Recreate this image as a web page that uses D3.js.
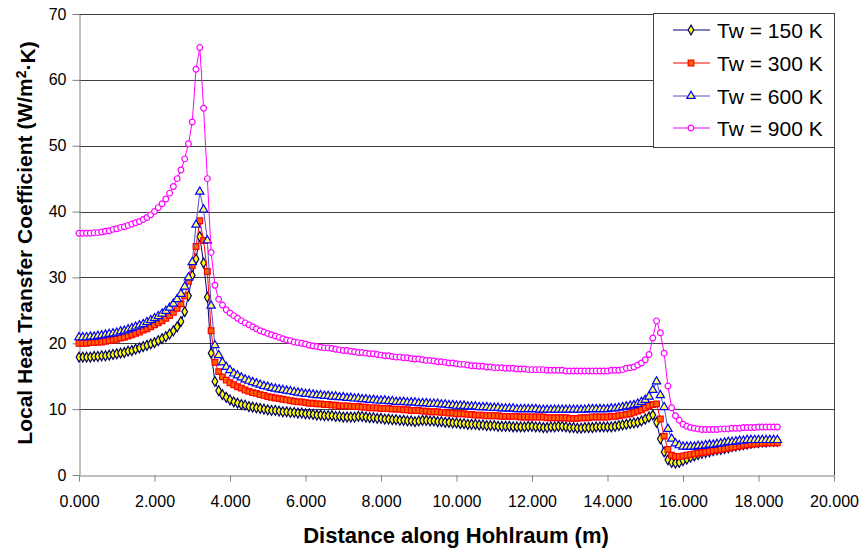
<!DOCTYPE html>
<html>
<head>
<meta charset="utf-8">
<script src="https://cdn.jsdelivr.net/npm/d3@7"></script>
<style>
  body { margin: 0; background: #fff; }
  svg { font-family: "Liberation Sans", Arial, sans-serif; }
  .axis path, .axis line { stroke: #808080; }
  .axis text { font-size: 16px; fill: #000; }
  .grid { stroke: #404040; stroke-width: 1; }
  .axis-label { font-weight: bold; fill: #000; }
</style>
</head>
<body>
<div id="chart"></div>
<script>
// distance along hohlraum (m)
var xs = [
  0.0, 0.1, 0.2, 0.3, 0.4, 0.5, 0.6, 0.7, 0.8, 0.9,
  1.0, 1.1, 1.2, 1.3, 1.4, 1.5, 1.6, 1.7, 1.8, 1.9,
  2.0, 2.1, 2.2, 2.3, 2.4, 2.5, 2.6, 2.7, 2.8, 2.9,
  3.0, 3.1, 3.2, 3.3, 3.4, 3.5, 3.6, 3.7, 3.8, 3.9,
  4.0, 4.1, 4.2, 4.3, 4.4, 4.5, 4.6, 4.7, 4.8, 4.9,
  5.0, 5.1, 5.2, 5.3, 5.4, 5.5, 5.6, 5.7, 5.8, 5.9,
  6.0, 6.1, 6.2, 6.3, 6.4, 6.5, 6.6, 6.7, 6.8, 6.9,
  7.0, 7.1, 7.2, 7.3, 7.4, 7.5, 7.6, 7.7, 7.8, 7.9,
  8.0, 8.1, 8.2, 8.3, 8.4, 8.5, 8.6, 8.7, 8.8, 8.9,
  9.0, 9.1, 9.2, 9.3, 9.4, 9.5, 9.6, 9.7, 9.8, 9.9,
  10.0, 10.1, 10.2, 10.3, 10.4, 10.5, 10.6, 10.7, 10.8, 10.9,
  11.0, 11.1, 11.2, 11.3, 11.4, 11.5, 11.6, 11.7, 11.8, 11.9,
  12.0, 12.1, 12.2, 12.3, 12.4, 12.5, 12.6, 12.7, 12.8, 12.9,
  13.0, 13.1, 13.2, 13.3, 13.4, 13.5, 13.6, 13.7, 13.8, 13.9,
  14.0, 14.1, 14.2, 14.3, 14.4, 14.5, 14.6, 14.7, 14.8, 14.9,
  15.0, 15.1, 15.2, 15.3, 15.4, 15.5, 15.6, 15.7, 15.8, 15.9,
  16.0, 16.1, 16.2, 16.3, 16.4, 16.5, 16.6, 16.7, 16.8, 16.9,
  17.0, 17.1, 17.2, 17.3, 17.4, 17.5, 17.6, 17.7, 17.8, 17.9,
  18.0, 18.1, 18.2, 18.3, 18.4, 18.5
];

var tw150 = [
  17.9, 17.9, 17.9, 17.9, 18.0, 18.0, 18.1, 18.1, 18.2, 18.3,
  18.4, 18.5, 18.6, 18.8, 18.9, 19.1, 19.3, 19.5, 19.7, 19.9,
  20.1, 20.4, 20.7, 21.0, 21.4, 21.9, 22.5, 23.3, 24.8, 27.2,
  30.3, 32.8, 36.2, 32.2, 27.0, 18.5, 14.2, 12.8, 12.2, 11.8,
  11.4, 11.1, 10.9, 10.7, 10.6, 10.4, 10.3, 10.2, 10.1, 10.0,
  9.9, 9.8, 9.8, 9.7, 9.6, 9.6, 9.5, 9.5, 9.4, 9.4,
  9.3, 9.3, 9.2, 9.1, 9.1, 9.0, 9.0, 9.0, 8.9, 8.9,
  8.8, 8.8, 8.8, 8.8, 8.9, 8.9, 8.8, 8.7, 8.7, 8.6,
  8.6, 8.5, 8.5, 8.4, 8.4, 8.3, 8.3, 8.2, 8.2, 8.1,
  8.2, 8.3, 8.3, 8.2, 8.2, 8.1, 8.1, 8.0, 8.0, 7.9,
  7.9, 7.8, 7.8, 7.7, 7.7, 7.7, 7.6, 7.6, 7.5, 7.5,
  7.5, 7.4, 7.4, 7.4, 7.4, 7.3, 7.3, 7.3, 7.3, 7.4,
  7.4, 7.3, 7.3, 7.2, 7.2, 7.3, 7.3, 7.4, 7.4, 7.3,
  7.2, 7.2, 7.1, 7.1, 7.2, 7.2, 7.2, 7.3, 7.3, 7.3,
  7.3, 7.3, 7.4, 7.5, 7.6, 7.7, 7.8, 7.9, 8.0, 8.2,
  8.5, 8.8, 9.1, 8.0, 5.5, 3.5, 2.3, 1.9, 1.8, 1.9,
  2.2, 2.4, 2.7, 2.9, 3.1, 3.3, 3.4, 3.5, 3.7, 3.8,
  3.9, 4.0, 4.1, 4.3, 4.4, 4.5, 4.6, 4.7, 4.8, 4.9,
  4.9, 5.0, 5.0, 5.1, 5.1, 5.1
];

var tw300 = [
  20.0, 20.0, 20.0, 20.1, 20.1, 20.2, 20.2, 20.3, 20.4, 20.5,
  20.6, 20.8, 20.9, 21.1, 21.3, 21.5, 21.7, 22.0, 22.2, 22.5,
  22.8, 23.1, 23.4, 23.8, 24.2, 24.7, 25.3, 26.0, 27.2, 29.4,
  31.8, 34.7, 38.6, 35.6, 30.9, 21.9, 17.1, 15.7, 14.9, 14.4,
  14.0, 13.7, 13.4, 13.2, 12.9, 12.7, 12.5, 12.4, 12.2, 12.1,
  11.9, 11.8, 11.7, 11.6, 11.5, 11.4, 11.3, 11.2, 11.1, 11.1,
  11.0, 10.9, 10.9, 10.8, 10.8, 10.7, 10.7, 10.6, 10.6, 10.5,
  10.5, 10.5, 10.4, 10.4, 10.4, 10.3, 10.3, 10.2, 10.2, 10.2,
  10.1, 10.1, 10.1, 10.0, 10.0, 10.0, 9.9, 9.9, 9.8, 9.8,
  9.8, 9.7, 9.7, 9.6, 9.6, 9.6, 9.5, 9.5, 9.4, 9.4,
  9.3, 9.3, 9.3, 9.2, 9.2, 9.1, 9.1, 9.1, 9.0, 9.0,
  9.0, 9.0, 8.9, 8.9, 8.9, 8.9, 8.9, 8.8, 8.8, 8.8,
  8.8, 8.8, 8.8, 8.8, 8.7, 8.7, 8.7, 8.7, 8.7, 8.7,
  8.6, 8.6, 8.6, 8.7, 8.7, 8.7, 8.8, 8.8, 8.8, 8.8,
  8.8, 8.9, 8.9, 9.0, 9.1, 9.2, 9.3, 9.5, 9.7, 9.9,
  10.2, 10.5, 10.7, 10.8, 8.5, 5.9, 3.9, 3.0, 2.8, 2.8,
  2.9, 3.0, 3.1, 3.2, 3.3, 3.4, 3.5, 3.6, 3.7, 3.8,
  3.9, 4.0, 4.1, 4.2, 4.3, 4.4, 4.5, 4.6, 4.7, 4.7,
  4.8, 4.8, 4.9, 4.9, 4.9, 4.9
];

var tw600 = [
  20.9, 20.9, 20.9, 21.0, 21.0, 21.1, 21.2, 21.3, 21.4, 21.5,
  21.6, 21.8, 21.9, 22.1, 22.3, 22.5, 22.7, 22.9, 23.2, 23.5,
  23.8, 24.1, 24.5, 24.9, 25.4, 26.0, 26.7, 27.5, 28.6, 30.0,
  32.3, 38.0, 43.0, 40.3, 35.6, 25.7, 19.7, 18.2, 17.1, 16.4,
  15.9, 15.4, 15.1, 14.8, 14.5, 14.3, 14.1, 13.9, 13.7, 13.5,
  13.4, 13.2, 13.1, 13.0, 12.9, 12.8, 12.7, 12.6, 12.5, 12.4,
  12.3, 12.3, 12.2, 12.1, 12.1, 12.0, 12.0, 11.9, 11.9, 11.8,
  11.8, 11.7, 11.7, 11.6, 11.6, 11.5, 11.5, 11.4, 11.4, 11.3,
  11.3, 11.3, 11.2, 11.2, 11.1, 11.1, 11.1, 11.0, 11.0, 11.0,
  10.9, 10.9, 10.9, 10.8, 10.8, 10.8, 10.7, 10.7, 10.6, 10.6,
  10.5, 10.5, 10.5, 10.4, 10.4, 10.4, 10.3, 10.3, 10.3, 10.2,
  10.2, 10.2, 10.1, 10.1, 10.1, 10.1, 10.0, 10.0, 10.0, 10.0,
  10.0, 10.0, 9.9, 9.9, 9.9, 9.9, 9.9, 9.9, 9.9, 9.9,
  9.9, 9.9, 9.9, 9.9, 9.9, 10.0, 10.0, 10.0, 10.0, 10.0,
  10.0, 10.1, 10.1, 10.2, 10.3, 10.4, 10.5, 10.6, 10.8, 11.1,
  11.4, 11.9, 12.9, 14.2, 12.1, 10.3, 7.0, 5.5, 4.8, 4.5,
  4.3, 4.3, 4.3, 4.3, 4.4, 4.4, 4.5, 4.6, 4.6, 4.7,
  4.8, 4.9, 5.0, 5.0, 5.1, 5.2, 5.2, 5.3, 5.3, 5.3,
  5.3, 5.3, 5.3, 5.3, 5.3, 5.3
];

var tw900 = [
  36.7, 36.7, 36.7, 36.7, 36.8, 36.8, 36.9, 37.0, 37.1, 37.3,
  37.4, 37.6, 37.7, 37.9, 38.1, 38.3, 38.5, 38.8, 39.1, 39.5,
  40.0, 40.6, 41.2, 41.9, 42.8, 43.8, 45.0, 46.3, 48.0, 50.3,
  53.6, 61.6, 64.9, 55.7, 45.0, 33.8, 28.8, 26.7, 25.8, 25.1,
  24.6, 24.2, 23.8, 23.4, 23.1, 22.8, 22.5, 22.2, 21.9, 21.7,
  21.5, 21.3, 21.1, 20.9, 20.7, 20.5, 20.4, 20.2, 20.1, 20.0,
  19.9, 19.7, 19.6, 19.5, 19.4, 19.3, 19.3, 19.2, 19.1, 19.0,
  18.9, 18.9, 18.8, 18.7, 18.6, 18.6, 18.5, 18.4, 18.4, 18.3,
  18.2, 18.1, 18.1, 18.0, 17.9, 17.9, 17.8, 17.8, 17.7, 17.6,
  17.6, 17.5, 17.4, 17.4, 17.3, 17.2, 17.2, 17.1, 17.0, 17.0,
  16.9, 16.8, 16.8, 16.7, 16.6, 16.6, 16.5, 16.5, 16.4, 16.4,
  16.3, 16.3, 16.3, 16.2, 16.2, 16.2, 16.1, 16.1, 16.1, 16.0,
  16.0, 16.0, 16.0, 16.0, 15.9, 15.9, 15.9, 15.9, 15.9, 15.8,
  15.8, 15.8, 15.8, 15.8, 15.8, 15.8, 15.8, 15.8, 15.8, 15.8,
  15.8, 15.9, 15.9, 15.9, 16.0, 16.2, 16.3, 16.4, 16.7, 17.0,
  17.5, 18.3, 20.8, 23.4, 21.6, 18.5, 13.5, 10.2, 9.0, 8.3,
  7.7, 7.4, 7.2, 7.1, 7.0, 6.9, 6.9, 6.9, 6.9, 6.9,
  7.0, 7.0, 7.0, 7.1, 7.1, 7.1, 7.2, 7.2, 7.2, 7.2,
  7.3, 7.3, 7.3, 7.3, 7.3, 7.3
];

var seriesNames = ["Tw = 150 K", "Tw = 300 K", "Tw = 600 K", "Tw = 900 K"];
var xTicks = [0, 2, 4, 6, 8, 10, 12, 14, 16, 18, 20];
var yTicks = [0, 10, 20, 30, 40, 50, 60, 70];

function init() {
  var w = 863;
  var h = 549;
  var left = 79, right = 834, top = 14, bottom = 475;

  var svg = d3.select("#chart")
    .append("svg")
    .attr("width", w)
    .attr("height", h);

  var xScale = d3.scaleLinear().domain([0, 20]).range([left, right]);
  var yScale = d3.scaleLinear().domain([0, 70]).range([bottom, top]);

  // line colour, marker shape, marker fill, marker stroke
  var styles = [
    { values: tw150, line: "#000080", shape: d3.symbolDiamond, size: 28, fill: "#ffff00", stroke: "#000060" },
    { values: tw300, line: "#ff0000", shape: d3.symbolSquare, size: 32, fill: "#ff6600", stroke: "#ff0000" },
    { values: tw600, line: "#5050c8", shape: d3.symbolTriangle, size: 30, fill: "#ffff66", stroke: "#0000ff" },
    { values: tw900, line: "#ff00ff", shape: d3.symbolCircle, size: 26, fill: "#ffffff", stroke: "#ff00ff" }
  ];

  // gridlines
  svg.selectAll("line.grid")
    .data(yTicks.filter(function (d) { return d > 0; }))
    .enter()
    .append("line")
    .attr("class", "grid")
    .attr("x1", left)
    .attr("x2", right)
    .attr("y1", function (d) { return Math.round(yScale(d)) + 0.5; })
    .attr("y2", function (d) { return Math.round(yScale(d)) + 0.5; });

  // right frame
  svg.append("line")
    .attr("x1", right + 0.5).attr("x2", right + 0.5)
    .attr("y1", top).attr("y2", bottom)
    .attr("stroke", "#404040");

  var xAxis = d3.axisBottom(xScale)
    .tickValues(xTicks)
    .tickFormat(d3.format(".3f"))
    .tickSize(6)
    .tickSizeOuter(0)
    .tickPadding(14);

  var yAxis = d3.axisLeft(yScale)
    .tickValues(yTicks)
    .tickSize(7)
    .tickSizeOuter(0)
    .tickPadding(6);

  svg.append("g")
    .attr("class", "axis")
    .attr("transform", "translate(0," + (bottom + 0.5) + ")")
    .call(xAxis);

  svg.append("g")
    .attr("class", "axis")
    .attr("transform", "translate(" + (left + 0.5) + ",0)")
    .call(yAxis);

  // series
  styles.forEach(function (s) {
    var pts = xs.map(function (x, i) { return [x, s.values[i]]; });
    var line = d3.line()
      .x(function (d) { return xScale(d[0]); })
      .y(function (d) { return yScale(d[1]); });

    var g = svg.append("g");
    g.append("path")
      .datum(pts)
      .attr("fill", "none")
      .attr("stroke", s.line)
      .attr("stroke-width", 1)
      .attr("d", line);

    g.selectAll("path.mark")
      .data(pts)
      .enter()
      .append("path")
      .attr("class", "mark")
      .attr("d", d3.symbol().type(s.shape).size(s.size))
      .attr("transform", function (d) { return "translate(" + xScale(d[0]) + "," + yScale(d[1]) + ")"; })
      .attr("fill", s.fill)
      .attr("stroke", s.stroke)
      .attr("stroke-width", 1.2);
  });

  // legend
  var legend = svg.append("g");
  legend.append("rect")
    .attr("x", 653.5)
    .attr("y", 13.5)
    .attr("width", 181)
    .attr("height", 134)
    .attr("fill", "#fff")
    .attr("stroke", "#404040");

  var legendY = [30, 63, 96, 128];
  styles.forEach(function (s, i) {
    var y = legendY[i];
    legend.append("line")
      .attr("x1", 673).attr("x2", 710)
      .attr("y1", y).attr("y2", y)
      .attr("stroke", s.line);
    legend.append("path")
      .attr("d", d3.symbol().type(s.shape).size(s.size))
      .attr("transform", "translate(691," + y + ")")
      .attr("fill", s.fill)
      .attr("stroke", s.stroke)
      .attr("stroke-width", 1.2);
    legend.append("text")
      .attr("x", 717)
      .attr("y", y)
      .attr("dy", "0.36em")
      .style("font-size", "21px")
      .text(seriesNames[i]);
  });

  // axis titles
  svg.append("text")
    .attr("class", "axis-label")
    .attr("x", 456)
    .attr("y", 543)
    .attr("text-anchor", "middle")
    .style("font-size", "22px")
    .text("Distance along Hohlraum (m)");

  var yTitle = svg.append("text")
    .attr("class", "axis-label")
    .attr("transform", "translate(32,243) rotate(-90)")
    .attr("text-anchor", "middle")
    .style("font-size", "21px");
  yTitle.append("tspan").text("Local Heat Transfer Coefficient (W/m");
  yTitle.append("tspan").attr("dy", "-0.45em").style("font-size", "14px").text("2");
  yTitle.append("tspan").attr("dy", "0.45em").text("\u00B7K)");
}

window.onload = init;
</script>
</body>
</html>
